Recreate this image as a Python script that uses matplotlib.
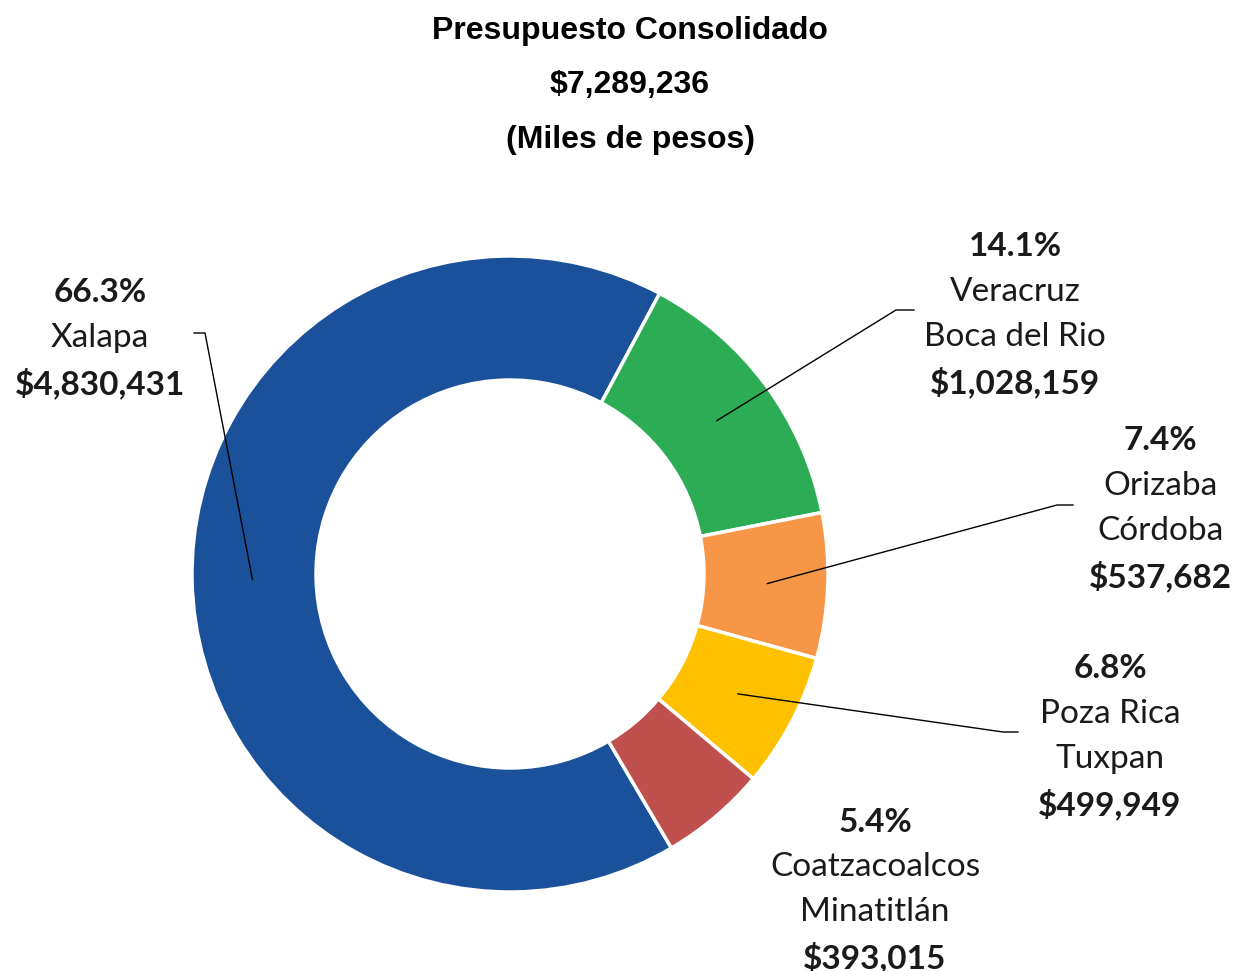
import matplotlib.pyplot as plt
import numpy as np

# === Data ===
regiones = ["Xalapa", "Veracruz\nBoca del Rio", "Orizaba\nCórdoba",
            "Poza Rica\nTuxpan", "Coatzacoalcos\nMinatitlán"]
montos = [4830431, 1028159, 537682, 499949, 393015]
porcentajes = ["66.3%", "14.1%", "7.4%", "6.8%", "5.4%"]
colores = ["#1B519B", "#2BAC55", "#F79646", "#FFC000", "#C0504D"]
total = sum(montos)

# === Figure: 1234x971 px, center of donut at (510, 574) px, radius 318 px ===
W, H = 1234, 971
CX, CY, R = 510, 574, 318

fig = plt.figure(figsize=(W / 100, H / 100), dpi=100)
ax = fig.add_axes([0, 0, 1, 1])


def px(x, y):
    # pixel position -> data coords (1 unit = outer radius)
    return (x - CX) / R, (CY - y) / R


wedges, _ = ax.pie(montos, colors=colores, radius=1, startangle=90 - 149.5,
                   counterclock=False,
                   wedgeprops=dict(width=0.39, edgecolor="white", linewidth=2.5))
ax.set_xlim(-CX / R, (W - CX) / R)
ax.set_ylim(-(H - CY) / R, CY / R)
ax.set_aspect("auto")
ax.axis("off")

# === Title ===
for texto, y in [("Presupuesto Consolidado", 31), ("$" + f"{total:,}", 85),
                 ("(Miles de pesos)", 140)]:
    ax.text(*px(630, y), texto, ha="center", va="center", fontsize=23,
            fontweight="bold", family="Liberation Sans")

# === Labels: (center x, first line y) and leader line elbows ===
label_pos = [(100, 293), (1015, 247), (1160, 441), (1110, 669), (875, 822)]
elbows = [[(205, 333), (194, 333)], [(896, 310), (914, 310)],
          [(1057, 505), (1073, 505)], [(1003, 732), (1018, 732)], None]
fs = 24
lh = 45

for w, nombre, monto, pct, (lx, ly), elbow in zip(wedges, regiones, montos, porcentajes,
                                                  label_pos, elbows):
    lineas = [(pct, "bold")]
    lineas += [(t, "normal") for t in nombre.split("\n")]
    lineas += [("$" + f"{monto:,}", "bold")]
    for i, (t, peso) in enumerate(lineas):
        ax.text(*px(lx, ly + i * lh), t, ha="center", va="center", fontsize=fs,
                fontweight=peso, family="Lato", color="#1A1A1A")
    if elbow is not None:
        ang = np.deg2rad((w.theta1 + w.theta2) / 2)
        x0, y0 = 0.81 * np.cos(ang), 0.81 * np.sin(ang)
        pts = [(x0, y0)] + [px(*p) for p in elbow]
        xs, ys = zip(*pts)
        ax.plot(xs, ys, color="black", linewidth=1)

fig.savefig("out.png", dpi=100, facecolor="white")
